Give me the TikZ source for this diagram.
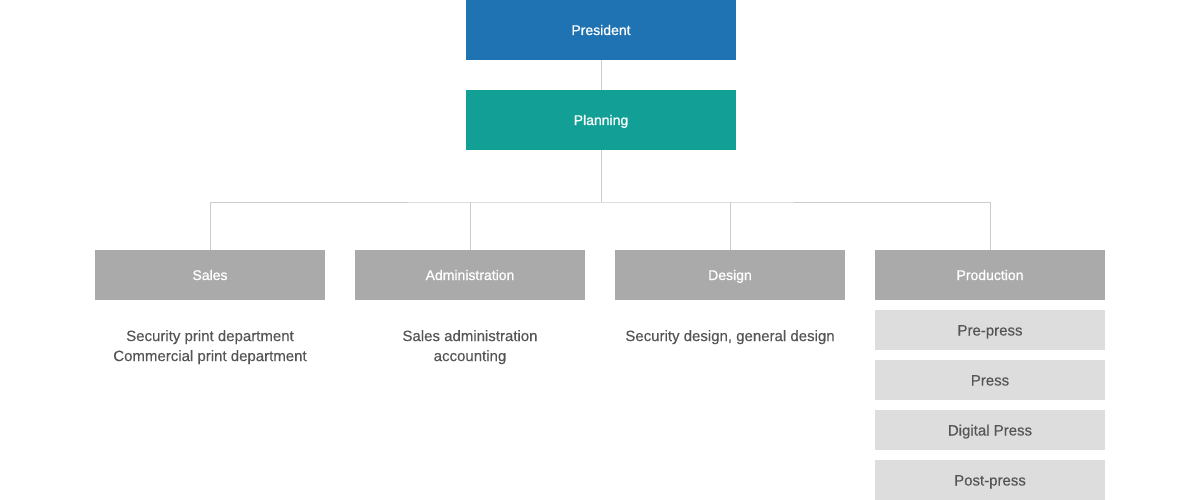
\documentclass[tikz,border=0pt]{standalone}
\usepackage{fontspec}
\setmainfont{Liberation Sans}
\newfontfamily\labfont[FakeBold=0.8]{Liberation Sans}
\newfontfamily\subfont[FakeBold=0.3]{Liberation Sans}
\begin{document}
\definecolor{cpres}{HTML}{2073B2}
\definecolor{cplan}{HTML}{12A096}
\definecolor{cdept}{HTML}{AAAAAA}
\definecolor{csub}{HTML}{DDDDDD}
\definecolor{cline}{HTML}{CCCCCC}
\definecolor{ctext}{HTML}{555555}
\begin{tikzpicture}[x=1pt,y=-1pt,
  box/.style={inner sep=0pt,outer sep=0pt,text=white,text height=10pt,text depth=0pt,font=\labfont\fontsize{14}{16}\selectfont},
  topbox/.style={box,minimum width=270pt,minimum height=60pt},
  deptbox/.style={box,fill=cdept,minimum width=230pt,minimum height=50pt},
  subbox/.style={inner sep=0pt,outer sep=0pt,fill=csub,text=ctext,text height=11pt,text depth=0pt,minimum width=230pt,minimum height=40pt,font=\subfont\fontsize{15}{17}\selectfont},
  desc/.style={text=ctext,align=center,font=\subfont\fontsize{15}{20}\selectfont,anchor=north,inner sep=0pt},
  conn/.style={draw=cline,line width=1pt}]
\useasboundingbox (0,0) rectangle (1200,500);
\node[topbox,fill=cpres] (pres) at (601,30) {President};
\node[topbox,fill=cplan] (plan) at (601,120) {Planning};
\node[deptbox] (sales) at (210,275) {Sales};
\node[deptbox] (admin) at (470,275) {Administration};
\node[deptbox] (design) at (730,275) {Design};
\node[deptbox] (prod) at (990,275) {Production};
\node[subbox] (pre) at (990,330) {Pre-press};
\node[subbox] (press) at (990,380) {Press};
\node[subbox] (digital) at (990,430) {Digital Press};
\node[subbox] (post) at (990,480) {Post-press};
\node[desc] (salesd) at (210,330) {Security print department\\Commercial print department};
\node[desc] (admind) at (470,330) {Sales administration\\accounting};
\node[desc] (designd) at (730,330) {Security design, general design};
\coordinate (hub) at (601,202);
\draw[conn] (pres.south) -- (plan.north);
\draw[conn] (plan.south) -- (hub);
\draw[conn] (sales.north) |- (hub) -| (prod.north);
\draw[conn] (admin.north) -- (admin.north |- hub);
\draw[conn] (design.north) -- (design.north |- hub);
\end{tikzpicture}
\end{document}
